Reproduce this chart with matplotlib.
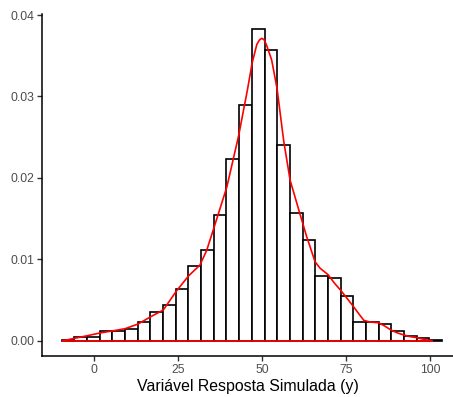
import numpy as np
import matplotlib
matplotlib.use("Agg")
import matplotlib.pyplot as plt

plt.rcParams['font.family'] = ['Liberation Sans', 'DejaVu Sans']

# histogram: 30 bins, density scale
bin_start = -9.52
bin_end = 103.57
heights = [0.0001, 0.00042, 0.0005, 0.00115, 0.00115, 0.00144, 0.00226, 0.00356,
           0.00439, 0.00635, 0.0092, 0.01114, 0.01548, 0.02236, 0.029, 0.03826,
           0.03575, 0.02408, 0.01565, 0.01233, 0.00795, 0.0077, 0.00545, 0.00233,
           0.00233, 0.00205, 0.00119, 0.00061, 0.0003, 0.00005]

# density curve
dens_x = [-9.1, -5.6, -2.0, 1.9, 5.6, 9.4, 13.2, 17.0, 20.7, 24.6, 28.2, 31.6,
          33.6, 35.7, 39.6, 43.1, 45.7, 47.1, 48.5, 49.3, 50.0, 50.7, 51.4,
          52.9, 54.5, 56.5, 58.4, 61.3, 63.3, 65.8, 67.3, 69.7, 71.5, 73.6,
          75.5, 77.2, 79.0, 80.3, 82.0, 84.7, 86.5, 88.4, 90.3, 92.2, 94.0,
          96.0, 98.3, 100.5]
dens_y = [0.0, 0.0003, 0.0006, 0.00095, 0.0012, 0.00148, 0.00205, 0.00295,
          0.00377, 0.0061, 0.00795, 0.0093, 0.0111, 0.0138, 0.0189, 0.0252,
          0.0308, 0.0341, 0.0364, 0.03695, 0.03715, 0.03695, 0.0363,
          0.0345, 0.031, 0.0245, 0.0197, 0.0156, 0.0128, 0.0097, 0.0089,
          0.0081, 0.0071, 0.0061, 0.0051, 0.0042, 0.0032, 0.0025, 0.0023,
          0.0022, 0.0018, 0.0013, 0.00095, 0.0007, 0.0005, 0.00037, 0.00015, 0.0]

xticks = [0, 25, 50, 75, 100]
yticks = [0.00, 0.01, 0.02, 0.03, 0.04]
xlabel = "Variável Resposta Simulada (y)"

fig = plt.figure(figsize=(4.53, 3.97), dpi=100)
ax = fig.add_axes([0.0938, 0.1033, 0.9062, 0.8622])

edges = np.linspace(bin_start, bin_end, len(heights) + 1)
ax.bar(edges[:-1], heights, width=np.diff(edges), align='edge',
       facecolor='white', edgecolor='black', linewidth=1.2)

ax.plot(dens_x, dens_y, color='red', linewidth=1.2, solid_joinstyle='round')
ax.plot([dens_x[0], dens_x[-1]], [0, 0], color='red', linewidth=1.2)

ax.set_xlim(-15.2, 106.8)
ax.set_ylim(-0.00188, 0.04017)
ax.set_xticks(xticks)
ax.set_xticklabels([str(t) for t in xticks])
ax.set_yticks(yticks)
ax.set_yticklabels(["%.2f" % t for t in yticks])

for s in ['top', 'right']:
    ax.spines[s].set_visible(False)
for s in ['left', 'bottom']:
    ax.spines[s].set_linewidth(1.1)
    ax.spines[s].set_color('black')
ax.tick_params(axis='both', length=3.3, width=1.0, color='#333333',
               labelcolor='#4D4D4D', labelsize=8.8, pad=2.5)
ax.set_xlabel(xlabel, fontsize=11.4, color='black', labelpad=2)

fig.savefig("out.png", dpi=100)
